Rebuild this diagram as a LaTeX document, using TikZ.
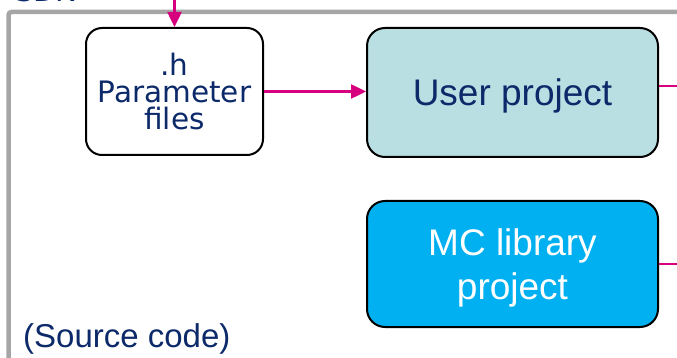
\documentclass[tikz,border=0pt]{standalone}
\usepackage{fontspec}
\setmainfont{Liberation Sans}
\newfontfamily\verd{DejaVu Sans}
\usetikzlibrary{arrows.meta}
\definecolor{navy}{HTML}{0C2A6A}
\definecolor{mag}{HTML}{D6007F}
\definecolor{framegray}{HTML}{A6A6A6}
\definecolor{userfill}{HTML}{B9DFE3}
\definecolor{mcfill}{HTML}{00B0F0}
\begin{document}
\begin{tikzpicture}[x=1pt,y=-1pt,
  box/.style={draw=black,line width=2pt,rounded corners=18pt,inner sep=0pt,align=center},
  magline/.style={draw=mag,line width=2.5pt},
  magarrow/.style={magline,-{Triangle[length=15pt,width=14pt]}}]
\useasboundingbox (0,0) rectangle (677,358);
\clip (0,0) rectangle (677,358);
% outer frame
\draw[framegray,line width=4.5pt,rounded corners=3pt] (8.5,400) -- (8.5,12) -- (760,12);
\node[anchor=base west,inner sep=0pt,text=navy,font=\verd\fontsize{29}{29}\selectfont] (sdk) at (15,2) {SDK};
% boxes
\node[box,fill=white,minimum width=177pt,minimum height=127pt,rounded corners=16pt,
  text=navy,font=\verd\fontsize{29.5}{27}\selectfont] (param) at (174.5,91.5) {.h\\Parameter\\files};
\node[box,fill=userfill,minimum width=291pt,minimum height=129pt,text=navy,
  font=\fontsize{37}{44}\selectfont,text height=26.5pt,text depth=0pt] (user) at (512.5,92.5) {User project};
\node[box,fill=mcfill,minimum width=291pt,minimum height=126pt,text=white,
  font=\fontsize{37}{44}\selectfont,text height=70.5pt,text depth=0pt] (mc) at (512.5,264) {MC library\\project};
\node[anchor=base west,inner sep=0pt,text=navy,font=\fontsize{33}{33}\selectfont] (src) at (23,347) {(Source code)};
% connectors
\coordinate (topin) at (174.5,-2);
\draw[magarrow] (topin) -- (param.north);
\draw[magarrow] (param.east) -- (param.east -| user.west);
\coordinate (outA) at (690,86);
\coordinate (outB) at (690,264);
\draw[magline] (outA -| user.east) -- (outA);
\draw[magline] (outB -| mc.east) -- (outB);
\end{tikzpicture}
\end{document}
